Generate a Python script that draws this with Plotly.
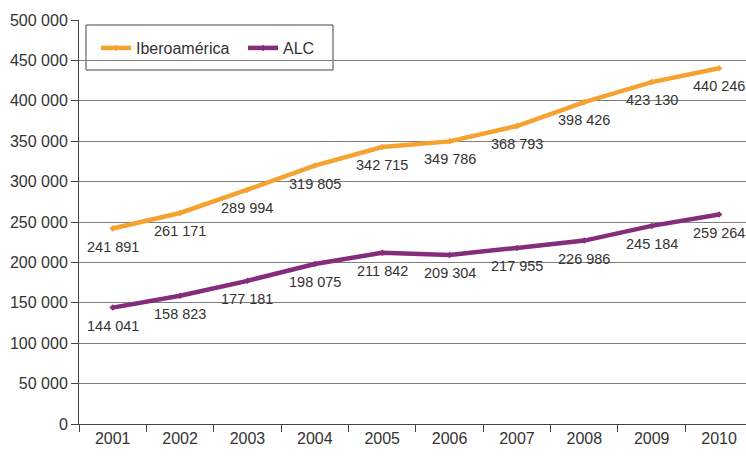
import plotly.graph_objects as go

years = ["2001", "2002", "2003", "2004", "2005", "2006", "2007", "2008", "2009", "2010"]
ibero = [241891, 261171, 289994, 319805, 342715, 349786, 368793, 398426, 423130, 440246]
alc = [144041, 158823, 177181, 198075, 211842, 209304, 217955, 226986, 245184, 259264]
y_ticks = [0, 50000, 100000, 150000, 200000, 250000, 300000, 350000, 400000, 450000, 500000]
y_tick_text = ["0", "50 000", "100 000", "150 000", "200 000", "250 000", "300 000",
               "350 000", "400 000", "450 000", "500 000"]

ORANGE = "#F5A231"
PURPLE = "#852C7B"
TXT = "#333333"
FONT = "Liberation Sans, Arial"

W, H = 746, 456
L, R, T, B = 79, 0, 20, 32
PW, PH = W - L - R, H - T - B

def fmt(v):
    return f"{v:,}".replace(",", " ")

fig = go.Figure()
fig.add_trace(go.Scatter(x=years, y=ibero, name="Iberoamérica", mode="lines+markers",
                         line=dict(color=ORANGE, width=4.5),
                         marker=dict(symbol="diamond", size=5, color=ORANGE)))
fig.add_trace(go.Scatter(x=years, y=alc, name="ALC", mode="lines+markers",
                         line=dict(color=PURPLE, width=4.5),
                         marker=dict(symbol="diamond", size=5, color=PURPLE)))

annotations = []
for series in (ibero, alc):
    for i, v in enumerate(series):
        annotations.append(dict(x=i, y=v, xref="x", yref="y", text=fmt(v),
                                showarrow=False, yshift=-18,
                                font=dict(family=FONT, size=14.5, color=TXT)))

# legend frame (screen px -> paper coords)
def px_x(sx):
    return (sx - L) / PW

def px_y(sy):
    return (H - B - sy) / PH

shapes = [dict(type="rect", xref="paper", yref="paper", layer="below",
               x0=px_x(86), x1=px_x(333), y0=px_y(70), y1=px_y(25),
               line=dict(color="#444444", width=1), fillcolor="white")]

fig.update_layout(
    width=W, height=H,
    margin=dict(l=L, r=R, t=T, b=B, autoexpand=False),
    paper_bgcolor="white", plot_bgcolor="white",
    font=dict(family=FONT, size=16, color=TXT),
    showlegend=True,
    legend=dict(orientation="h", x=px_x(96), y=px_y(48),
                xanchor="left", yanchor="middle",
                bgcolor="rgba(0,0,0,0)", borderwidth=0,
                font=dict(family=FONT, size=16, color=TXT), itemwidth=30,
                entrywidthmode="pixels", entrywidth=102),
    annotations=annotations,
    shapes=shapes,
    xaxis=dict(type="category", range=[-0.5, 9.4], showgrid=False, automargin=False,
               showline=True, linecolor="#444444", linewidth=1,
               ticks="outside", ticklen=7, tickcolor="#444444",
               tickson="boundaries", tickfont=dict(size=16, color=TXT)),
    yaxis=dict(range=[0, 500000], tickvals=y_ticks, ticktext=y_tick_text, automargin=False,
               showgrid=True, gridcolor="#7f7f7f", gridwidth=1,
               showline=True, linecolor="#444444", linewidth=1,
               ticks="outside", ticklen=7, tickcolor="#444444",
               zeroline=False, tickfont=dict(size=16, color=TXT)),
)

fig.write_html("out.html",
               config={"displayModeBar": False},
               post_script="document.body.style.margin='0';document.body.style.overflow='hidden';")
